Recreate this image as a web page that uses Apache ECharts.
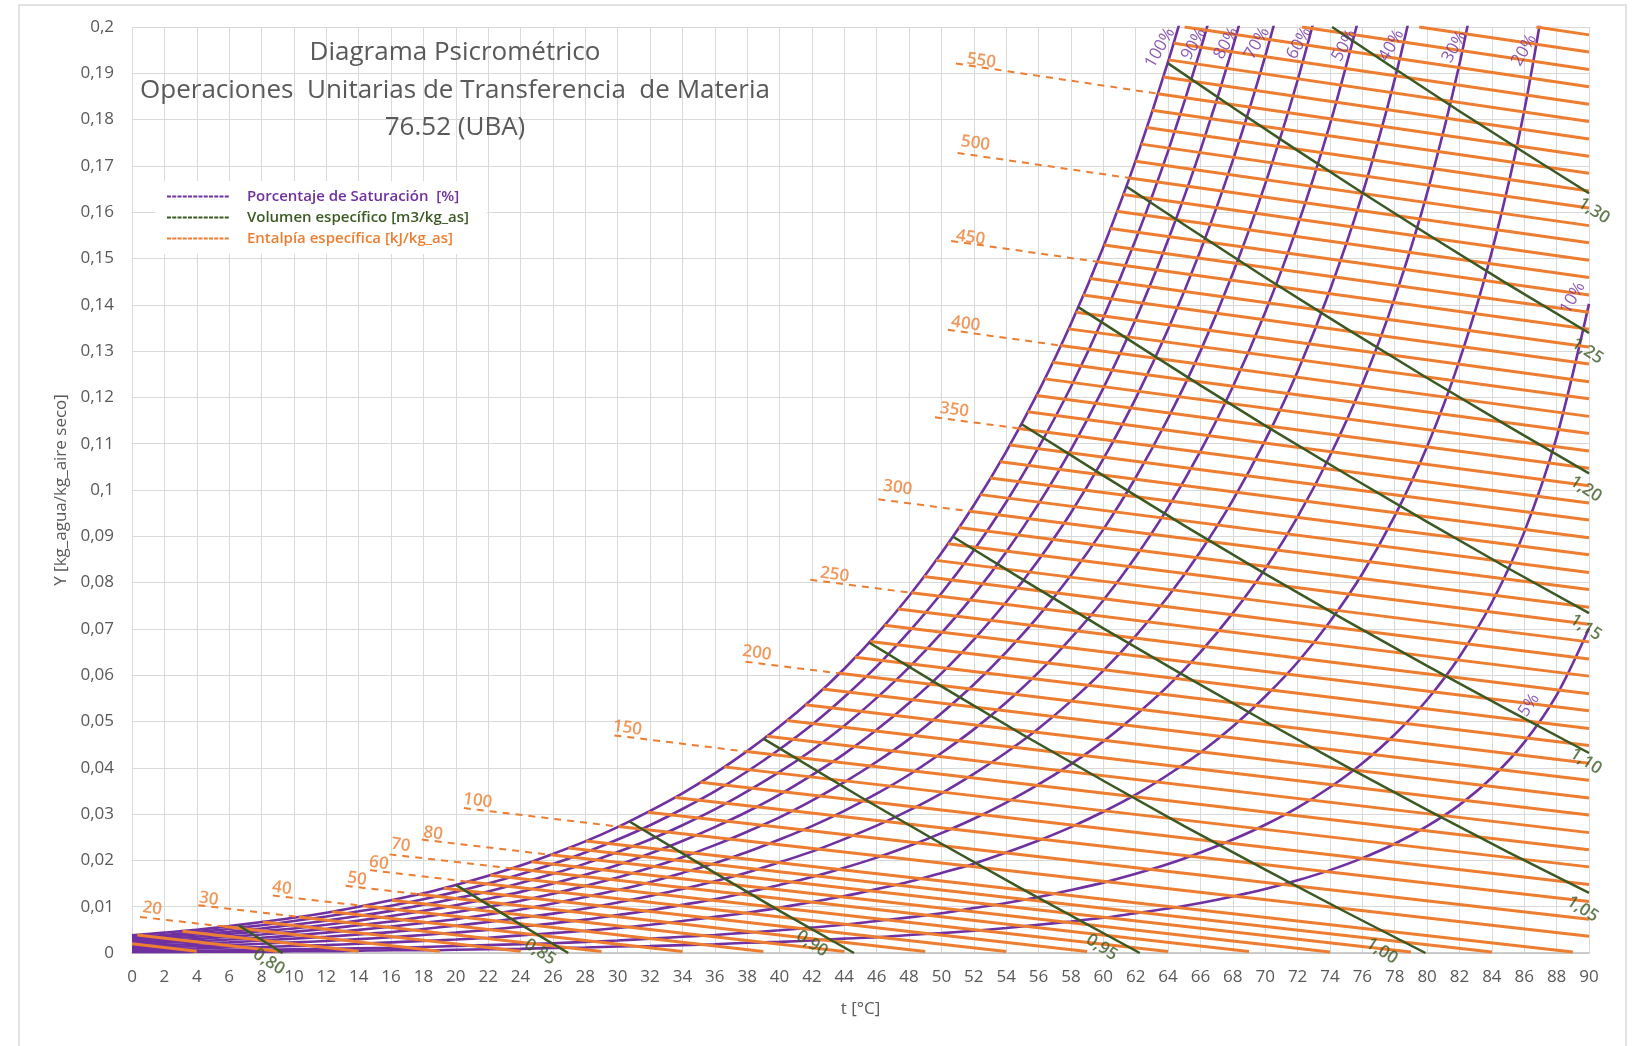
<!DOCTYPE html>
<html><head><meta charset="utf-8">
<script src="https://cdn.jsdelivr.net/npm/echarts/dist/echarts.min.js"></script>
<style>html,body{margin:0;padding:0;background:#fff}#chart{width:1638px;height:1046px}</style>
</head><body><div id="chart"></div>
<script>
// ---------- DATA ----------
const tempC = [0,2,4,6,8,10,12,14,16,18,20,22,24,26,28,30,32,34,36,38,40,42,44,46,48,50,52,54,56,58,60,62,64,66,68,70,72,74,76,78,80,82,84,86,88,90];
const satPercent = [100,90,80,70,60,50,40,30,20,10,5];
const satY = [
 [0.0038,0.0044,0.0050,0.0058,0.0067,0.0076,0.0087,0.0100,0.0114,0.0129,0.0147,0.0167,0.0189,0.0214,0.0241,0.0272,0.0307,0.0345,0.0388,0.0436,0.0489,0.0548,0.0614,0.0688,0.0771,0.0864,0.0967,0.1083,0.1213,0.1359,0.1525,0.1712,0.1925,0.2167],
 [0.0034,0.0039,0.0045,0.0052,0.0060,0.0069,0.0079,0.0090,0.0102,0.0116,0.0132,0.0150,0.0170,0.0192,0.0217,0.0245,0.0276,0.0311,0.0349,0.0392,0.0440,0.0493,0.0553,0.0619,0.0694,0.0777,0.0870,0.0974,0.1092,0.1223,0.1372,0.1541,0.1732,0.1951,0.2201],
 [0.0030,0.0035,0.0040,0.0046,0.0053,0.0061,0.0070,0.0080,0.0091,0.0104,0.0118,0.0133,0.0151,0.0171,0.0193,0.0218,0.0245,0.0276,0.0310,0.0349,0.0391,0.0438,0.0491,0.0551,0.0617,0.0691,0.0773,0.0866,0.0970,0.1087,0.1220,0.1369,0.1540,0.1734,0.1957,0.2214],
 [0.0026,0.0031,0.0035,0.0041,0.0047,0.0053,0.0061,0.0070,0.0080,0.0091,0.0103,0.0117,0.0132,0.0150,0.0169,0.0190,0.0215,0.0242,0.0272,0.0305,0.0342,0.0384,0.0430,0.0482,0.0540,0.0604,0.0677,0.0758,0.0849,0.0951,0.1067,0.1198,0.1347,0.1517,0.1712,0.1937,0.2199],
 [0.0023,0.0026,0.0030,0.0035,0.0040,0.0046,0.0052,0.0060,0.0068,0.0078,0.0088,0.0100,0.0113,0.0128,0.0145,0.0163,0.0184,0.0207,0.0233,0.0262,0.0293,0.0329,0.0369,0.0413,0.0462,0.0518,0.0580,0.0650,0.0728,0.0816,0.0915,0.1027,0.1155,0.1300,0.1468,0.1661,0.1885,0.2147],
 [0.0019,0.0022,0.0025,0.0029,0.0033,0.0038,0.0044,0.0050,0.0057,0.0065,0.0073,0.0083,0.0094,0.0107,0.0121,0.0136,0.0153,0.0173,0.0194,0.0218,0.0245,0.0274,0.0307,0.0344,0.0385,0.0432,0.0483,0.0541,0.0606,0.0680,0.0762,0.0856,0.0962,0.1084,0.1223,0.1384,0.1571,0.1790,0.2049],
 [0.0015,0.0017,0.0020,0.0023,0.0027,0.0031,0.0035,0.0040,0.0045,0.0052,0.0059,0.0067,0.0076,0.0085,0.0096,0.0109,0.0123,0.0138,0.0155,0.0174,0.0196,0.0219,0.0246,0.0275,0.0308,0.0345,0.0387,0.0433,0.0485,0.0544,0.0610,0.0685,0.0770,0.0867,0.0978,0.1107,0.1256,0.1432,0.1639,0.1887,0.2188],
 [0.0011,0.0013,0.0015,0.0017,0.0020,0.0023,0.0026,0.0030,0.0034,0.0039,0.0044,0.0050,0.0057,0.0064,0.0072,0.0082,0.0092,0.0104,0.0116,0.0131,0.0147,0.0164,0.0184,0.0206,0.0231,0.0259,0.0290,0.0325,0.0364,0.0408,0.0457,0.0514,0.0577,0.0650,0.0734,0.0830,0.0942,0.1074,0.1229,0.1415,0.1641,0.1920,0.2272],
 [0.0008,0.0009,0.0010,0.0012,0.0013,0.0015,0.0017,0.0020,0.0023,0.0026,0.0029,0.0033,0.0038,0.0043,0.0048,0.0054,0.0061,0.0069,0.0078,0.0087,0.0098,0.0110,0.0123,0.0138,0.0154,0.0173,0.0193,0.0217,0.0243,0.0272,0.0305,0.0342,0.0385,0.0433,0.0489,0.0554,0.0628,0.0716,0.0819,0.0944,0.1094,0.1280,0.1515,0.1819,0.2228],
 [0.0004,0.0004,0.0005,0.0006,0.0007,0.0008,0.0009,0.0010,0.0011,0.0013,0.0015,0.0017,0.0019,0.0021,0.0024,0.0027,0.0031,0.0035,0.0039,0.0044,0.0049,0.0055,0.0061,0.0069,0.0077,0.0086,0.0097,0.0108,0.0121,0.0136,0.0152,0.0171,0.0192,0.0217,0.0245,0.0277,0.0314,0.0358,0.0410,0.0472,0.0547,0.0640,0.0757,0.0909,0.1114,0.1402],
 [0.0002,0.0002,0.0003,0.0003,0.0003,0.0004,0.0004,0.0005,0.0006,0.0006,0.0007,0.0008,0.0009,0.0011,0.0012,0.0014,0.0015,0.0017,0.0019,0.0022,0.0024,0.0027,0.0031,0.0034,0.0039,0.0043,0.0048,0.0054,0.0061,0.0068,0.0076,0.0086,0.0096,0.0108,0.0122,0.0138,0.0157,0.0179,0.0205,0.0236,0.0274,0.0320,0.0379,0.0455,0.0557,0.0701]
];
const satLabelT = [63.5,65.6,67.6,69.5,72.1,74.9,77.8,81.7,86.0,89.0,86.3];
const satLabelY = [0.1955,0.1963,0.1965,0.1965,0.1965,0.1960,0.1960,0.1957,0.1950,0.1415,0.0535];

const enthalpyH = [5,10,15,20,25,30,35,40,45,50,55,60,65,70,75,80,85,90,100,110,120,130,140,150,160,170,180,190,200,210,220,230,240,250,260,270,280,290,300,310,320,330,340,350,360,370,380,390,400,410,420,430,440,450,460,470,480,490,500,510,520,530,540,550,560,570,580,590,600,610,620];
const enthStartT = [0,0.32,3.11,5.70,8.09,10.30,12.35,14.26,16.05,17.70,19.26,20.73,22.13,23.43,24.67,25.86,26.96,28.05,30.05,31.88,33.55,35.11,36.58,37.96,39.22,40.44,41.59,42.66,43.70,44.66,45.60,46.48,47.33,48.15,48.91,49.67,50.39,51.07,51.76,52.40,53.01,53.63,54.22,54.77,55.32,55.87,56.38,56.87,57.36,57.85,58.30,58.74,59.18,59.62,60.05,60.43,60.82,61.21,61.60,61.99,62.33,62.67,63.01,63.36,63.70,64.04,64.35,65.02,72.27,79.51,86.75];
const enthStartY = [0.0020,0.0039,0.0047,0.0057,0.0067,0.0078,0.0089,0.0102,0.0114,0.0127,0.0140,0.0154,0.0168,0.0183,0.0197,0.0212,0.0227,0.0242,0.0273,0.0304,0.0336,0.0369,0.0402,0.0435,0.0468,0.0502,0.0536,0.0570,0.0604,0.0639,0.0673,0.0708,0.0743,0.0778,0.0813,0.0848,0.0884,0.0919,0.0954,0.0990,0.1026,0.1061,0.1097,0.1133,0.1169,0.1204,0.1240,0.1276,0.1312,0.1348,0.1384,0.1421,0.1457,0.1493,0.1529,0.1565,0.1602,0.1638,0.1674,0.1710,0.1747,0.1783,0.1820,0.1856,0.1892,0.1929,0.1965,0.2,0.2,0.2,0.2];
const enthEndT = [4,9,14,19,24,29,34,39,44,49,54,59,64,69,74,79,84,89,90,90,90,90,90,90,90,90,90,90,90,90,90,90,90,90,90,90,90,90,90,90,90,90,90,90,90,90,90,90,90,90,90,90,90,90,90,90,90,90,90,90,90,90,90,90,90,90,90,90,90,90,90];
const enthEndY = [0.0004,0.0004,0.0004,0.0004,0.0004,0.0003,0.0003,0.0003,0.0003,0.0003,0.0003,0.0003,0.0003,0.0003,0.0002,0.0002,0.0002,0.0002,0.0036,0.0073,0.0111,0.0148,0.0186,0.0223,0.0260,0.0298,0.0335,0.0373,0.0410,0.0448,0.0485,0.0523,0.0560,0.0598,0.0635,0.0672,0.0710,0.0747,0.0785,0.0822,0.0860,0.0897,0.0935,0.0972,0.1009,0.1047,0.1084,0.1122,0.1159,0.1197,0.1234,0.1272,0.1309,0.1347,0.1384,0.1421,0.1459,0.1496,0.1534,0.1571,0.1609,0.1646,0.1684,0.1721,0.1758,0.1796,0.1833,0.1871,0.1908,0.1946,0.1983];

const enthLabelH = [20,30,40,50,60,70,80,100,150,200,250,300,350,400,450,500,550];
const dashStartT = [0.5,4.1,8.7,13.2,14.7,15.9,17.9,20.5,29.8,37.9,41.9,46.1,49.6,50.4,50.6,51.0,50.9];
const dashStartY = [0.0078,0.0103,0.0124,0.0145,0.0179,0.0213,0.0245,0.0313,0.0470,0.0629,0.0806,0.0980,0.1157,0.1346,0.1538,0.1728,0.1921];
const enthLabelT = [1.25,4.74,9.26,13.9,15.25,16.6,18.6,21.35,30.6,38.6,43.4,47.3,50.8,51.5,51.8,52.1,52.46];
const enthLabelY = [0.0096,0.0117,0.0140,0.0160,0.0194,0.0233,0.0258,0.0329,0.0486,0.0648,0.0817,0.1005,0.1173,0.1359,0.1545,0.1749,0.1927];

const volumeV = [0.80,0.85,0.90,0.95,1.00,1.05,1.10,1.15,1.20,1.25,1.30];
const volumeT = [
 [6.58,9.30],
 [20.0,23.5,26.95],
 [30.73,36,40,44.6],
 [39.0,45,50,55,62.25],
 [45.55,50,55,60,65,70,75,79.9],
 [50.72,55,60,65,70,75,80,85,90],
 [54.96,60,65,70,75,80,85,90],
 [58.45,62,66,70,75,80,85,90],
 [61.45,65,70,75,80,85,90],
 [63.98,68,72,76,80,85,90],
 [74.13,78,82,86,90]
];
const volumeY = [
 [0.0060,0],
 [0.0147,0.0072,0],
 [0.0284,0.0173,0.0091,0],
 [0.0463,0.0337,0.0236,0.0138,0],
 [0.0670,0.0576,0.0472,0.0372,0.0274,0.0180,0.0088,0],
 [0.0899,0.0807,0.0701,0.0599,0.0500,0.0403,0.0309,0.0218,0.0130],
 [0.1142,0.1031,0.0923,0.0819,0.0718,0.0620,0.0525,0.0432],
 [0.1395,0.1315,0.1226,0.1139,0.1034,0.0931,0.0831,0.0734],
 [0.1655,0.1573,0.1459,0.1349,0.1242,0.1138,0.1036],
 [0.1922,0.1826,0.1733,0.1642,0.1553,0.1444,0.1339],
 [0.2000,0.1910,0.1818,0.1729,0.1641]
];
const volLabelT = [8.45,25.2,42.0,59.9,77.2,89.6,89.8,89.8,89.8,89.9,90.3];
const volLabelY = [-0.0019,0.0002,0.0020,0.0012,0.0004,0.0095,0.0414,0.0703,0.1002,0.1300,0.1603];

// ---------- STYLE ----------
const PURPLE = '#7030A0', GREEN = '#3B5A23', ORANGE = '#ED7D31', GRAY = '#595959', GRID = '#D9D9D9';
const FONT = '"Open Sans", "Noto Sans", sans-serif';
const N_SAT = 'Porcentaje de Saturación  [%]';
const N_VOL = 'Volumen específico [m3/kg_as]';
const N_ENT = 'Entalpía específica [kJ/kg_as]';
let dashPath = 'path://';
for (let k = 0; k < 12; k++) dashPath += 'M' + (k * 5.25) + ',0h4v2h-4z';

const series = [];
// empty line series that only provide the legend entries' dashed icons
[[N_SAT, PURPLE], [N_VOL, GREEN], [N_ENT, ORANGE]].forEach(([n, c]) => {
  series.push({ type: 'line', name: n, data: [], symbol: 'none', silent: true,
    lineStyle: { color: c, width: 2 }, itemStyle: { color: c } });
});
satPercent.forEach((p, i) => {
  series.push({
    type: 'line', name: N_SAT, silent: true, clip: true,
    data: satY[i].map((y, j) => [tempC[j], y]),
    symbol: 'none', smooth: 0.3,
    lineStyle: { color: PURPLE, width: 2.6 }, itemStyle: { color: PURPLE }, z: 2
  });
});
series.push({
  type: 'lines', name: N_ENT, coordinateSystem: 'cartesian2d', silent: true,
  data: enthalpyH.map((h, i) => ({ coords: [[enthStartT[i], enthStartY[i]], [enthEndT[i], enthEndY[i]]] })),
  lineStyle: { color: ORANGE, width: 3, opacity: 1, curveness: 0 }, itemStyle: { color: ORANGE }, z: 3
});
series.push({
  type: 'lines', coordinateSystem: 'cartesian2d', silent: true,
  data: enthLabelH.map((h, i) => {
    const k = enthalpyH.indexOf(h);
    return { coords: [[dashStartT[i], dashStartY[i]], [enthStartT[k], enthStartY[k]]] };
  }),
  lineStyle: { color: ORANGE, width: 2, opacity: 1, type: [7, 6], curveness: 0 }, z: 3
});
series.push({
  type: 'lines', name: N_VOL, coordinateSystem: 'cartesian2d', polyline: true, silent: true,
  data: volumeV.map((v, i) => ({ coords: volumeT[i].map((t, j) => [t, volumeY[i][j]]) })),
  lineStyle: { color: GREEN, width: 2.5, opacity: 1 }, itemStyle: { color: GREEN }, z: 4
});
series.push({
  type: 'scatter', silent: true, clip: false, symbolSize: 1, itemStyle: { color: 'rgba(0,0,0,0)' }, z: 6,
  data: satPercent.map((p, i) => ({ value: [satLabelT[i], satLabelY[i]], name: p + '%',
    label: { rotate: p === 5 ? 55 : 60 } })),
  label: { show: true, position: 'inside', formatter: '{b}', rotate: 60, color: PURPLE, fontSize: 17, fontFamily: FONT }
});
series.push({
  type: 'scatter', silent: true, clip: false, symbolSize: 1, itemStyle: { color: 'rgba(0,0,0,0)' }, z: 6,
  data: enthLabelH.map((h, i) => ({ value: [enthLabelT[i], enthLabelY[i]], name: String(h) })),
  label: { show: true, position: 'inside', formatter: '{b}', rotate: -8, color: ORANGE, fontSize: 17, fontWeight: 600, fontFamily: FONT }
});
series.push({
  type: 'scatter', silent: true, clip: false, symbolSize: 1, itemStyle: { color: 'rgba(0,0,0,0)' }, z: 6,
  data: volumeV.map((v, i) => ({ value: [volLabelT[i], volLabelY[i]], name: v.toFixed(2).replace('.', ',') })),
  label: { show: true, position: 'inside', formatter: '{b}', rotate: -33, color: GREEN, fontSize: 17, fontWeight: 600, fontFamily: FONT }
});

const chart = echarts.init(document.getElementById('chart'), null, { renderer: 'canvas' });
chart.setOption({
  animation: false,
  backgroundColor: '#fff',
  title: {
    text: 'Diagrama Psicrométrico\nOperaciones  Unitarias de Transferencia  de Materia\n76.52 (UBA)',
    left: 450, top: 29, textAlign: 'center',
    textStyle: { color: GRAY, fontSize: 26, fontWeight: 'normal', lineHeight: 37.5, fontFamily: FONT }
  },
  legend: {
    orient: 'vertical', left: 155, top: 181, backgroundColor: '#fff',
    padding: [8, 18, 8, 12], itemGap: 6, itemWidth: 62, itemHeight: 2, selectedMode: false,
    textStyle: { fontFamily: FONT, fontSize: 15, fontWeight: 600, padding: [0, 0, 0, 13] },
    data: [
      { name: N_SAT, icon: dashPath, itemStyle: { color: PURPLE }, textStyle: { color: PURPLE } },
      { name: N_VOL, icon: dashPath, itemStyle: { color: GREEN }, textStyle: { color: GREEN } },
      { name: N_ENT, icon: dashPath, itemStyle: { color: ORANGE }, textStyle: { color: ORANGE } }
    ]
  },
  grid: { left: 132, right: 49, top: 27, bottom: 93, containLabel: false },
  xAxis: {
    type: 'value', min: 0, max: 90, interval: 2,
    name: 't [°C]', nameLocation: 'middle', nameGap: 48,
    nameTextStyle: { color: GRAY, fontSize: 17, fontFamily: FONT },
    axisLabel: { color: GRAY, fontSize: 17, margin: 16, fontFamily: FONT },
    axisLine: { show: true, lineStyle: { color: '#BFBFBF', width: 1.5 } },
    axisTick: { show: false },
    splitLine: { show: true, lineStyle: { color: GRID, width: 1 } }
  },
  yAxis: {
    type: 'value', min: 0, max: 0.2, interval: 0.01,
    name: 'Y [kg_agua/kg_aire seco]', nameLocation: 'middle', nameGap: 62,
    nameTextStyle: { color: GRAY, fontSize: 17, fontFamily: FONT },
    axisLabel: { color: GRAY, fontSize: 17, margin: 18, fontFamily: FONT,
      formatter: v => String(+v.toFixed(2)).replace('.', ',') },
    axisLine: { show: false }, axisTick: { show: false },
    splitLine: { show: true, lineStyle: { color: GRID, width: 1 } }
  },
  graphic: [{
    type: 'rect', silent: true, z: 0,
    shape: { x: 19, y: 5, width: 1607, height: 1060 },
    style: { fill: 'none', stroke: GRID, lineWidth: 1.5 }
  }],
  series: series
});
</script>
</body></html>
